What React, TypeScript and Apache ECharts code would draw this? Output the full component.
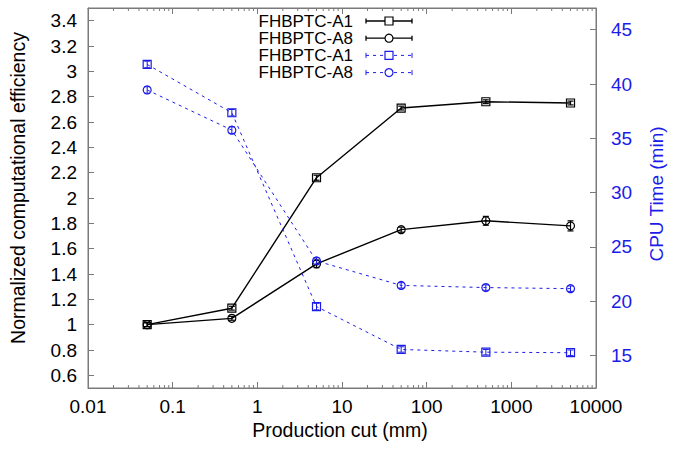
import React, { useEffect, useRef } from 'react';
import * as echarts from 'echarts';

const cuts = [0.05, 0.5, 5, 50, 500, 5000];
const effA1 = [1.0, 1.13, 2.16, 2.71, 2.76, 2.75];
const effA1Err = [0.015, 0.015, 0.02, 0.015, 0.015, 0.015];
const effA8 = [1.0, 1.05, 1.48, 1.75, 1.82, 1.78];
const effA8Err = [0.015, 0.015, 0.03, 0.02, 0.035, 0.04];
const timeA1 = [41.8, 37.35, 19.5, 15.55, 15.3, 15.25];
const timeA1Err = [0.3, 0.3, 0.3, 0.25, 0.25, 0.25];
const timeA8 = [39.45, 35.75, 23.7, 21.45, 21.25, 21.15];
const timeA8Err = [0.3, 0.3, 0.3, 0.25, 0.25, 0.25];
const legendNames = ['FHBPTC-A1', 'FHBPTC-A8', 'FHBPTC-A1', 'FHBPTC-A8'];
const xTitle = 'Production cut (mm)';
const yTitle = 'Normalized computational efficiency';
const y2Title = 'CPU Time (min)';

const FONT = '"Liberation Sans", Arial, Helvetica, sans-serif';
const BLUE = '#1c1ce8';
const BLACK = '#000000';
const FRAME = '#7a7a7a';

const minorTickValues: number[] = [];
for (let d = -2; d <= 3; d++) {
  for (let k = 2; k <= 9; k++) minorTickValues.push(+(k * Math.pow(10, d)).toPrecision(6));
}

function errData(vals: number[], errs: number[]) {
  return cuts.map((c, i) => [c, vals[i] - errs[i], vals[i] + errs[i]]);
}

function errRender(color: string, width: number) {
  return (params: any, api: any) => {
    const x = api.value(0);
    const p1 = api.coord([x, api.value(1)]);
    const p2 = api.coord([x, api.value(2)]);
    const c = 3;
    const st = { stroke: color, lineWidth: width };
    return {
      type: 'group',
      children: [
        { type: 'line', shape: { x1: p1[0], y1: p1[1], x2: p2[0], y2: p2[1] }, style: st },
        { type: 'line', shape: { x1: p1[0] - c, y1: p1[1], x2: p1[0] + c, y2: p1[1] }, style: st },
        { type: 'line', shape: { x1: p2[0] - c, y1: p2[1], x2: p2[0] + c, y2: p2[1] }, style: st },
      ],
    };
  };
}

function minorRender(params: any, api: any) {
  const cs = params.coordSys;
  const x = api.coord([api.value(0), 1])[0];
  const st = { stroke: FRAME, lineWidth: 1 };
  return {
    type: 'group',
    children: [
      { type: 'line', shape: { x1: x, y1: cs.y + cs.height, x2: x, y2: cs.y + cs.height - 3 }, style: st },
      { type: 'line', shape: { x1: x, y1: cs.y, x2: x, y2: cs.y + 3 }, style: st },
    ],
  };
}

function legendGraphic() {
  const styles = [
    { color: BLACK, dash: null as any, sym: 'rect', w: 1.3 },
    { color: BLACK, dash: null as any, sym: 'circle', w: 1.3 },
    { color: BLUE, dash: [3, 4], sym: 'rect', w: 1 },
    { color: BLUE, dash: [3, 4], sym: 'circle', w: 1 },
  ];
  const children: any[] = [];
  legendNames.forEach((name, i) => {
    const y = 21 + 17.2 * i;
    const s = styles[i];
    children.push({
      type: 'text',
      x: 353,
      y,
      style: { text: name, fill: BLACK, font: `17px ${FONT}`, align: 'right', verticalAlign: 'middle' },
    });
    const ls: any = { stroke: s.color, lineWidth: s.w };
    if (s.dash) ls.lineDash = s.dash;
    children.push({ type: 'line', shape: { x1: 366, y1: y, x2: 412, y2: y }, style: ls });
    const cap = { stroke: s.color, lineWidth: s.w };
    children.push({ type: 'line', shape: { x1: 366, y1: y - 2.5, x2: 366, y2: y + 2.5 }, style: cap });
    children.push({ type: 'line', shape: { x1: 412, y1: y - 2.5, x2: 412, y2: y + 2.5 }, style: cap });
    const mk = { stroke: s.color, lineWidth: 1.2, fill: '#ffffff' };
    if (s.sym === 'rect') {
      children.push({ type: 'rect', shape: { x: 385, y: y - 4, width: 8, height: 8 }, style: mk });
    } else {
      children.push({ type: 'circle', shape: { cx: 389, cy: y, r: 4 }, style: mk });
    }
  });
  return children;
}

export default function App() {
  const ref = useRef<HTMLDivElement>(null);
  useEffect(() => {
    document.body.style.margin = '0';
    const chart = echarts.init(ref.current!, null, { renderer: 'svg' });
    const axisLabel = { fontFamily: FONT, fontSize: 19, color: BLACK };
    const lineSeries = (name: string, data: number[], color: string, sym: string, yIdx: number, dashed: boolean) => ({
      type: 'line',
      name,
      data: cuts.map((c, i) => [c, data[i]]),
      xAxisIndex: 0,
      yAxisIndex: yIdx,
      symbol: sym,
      symbolSize: 8,
      showSymbol: true,
      itemStyle: { color: 'rgba(0,0,0,0)', borderColor: color, borderWidth: 1.2 },
      lineStyle: { color, width: dashed ? 1 : 1.4, type: dashed ? [3, 4] : 'solid' },
      z: 3,
    });
    chart.setOption({
      animation: false,
      backgroundColor: '#ffffff',
      grid: { left: 88, right: 80, top: 8, bottom: 64, show: true, borderColor: FRAME, borderWidth: 1, backgroundColor: 'transparent' },
      xAxis: [
        {
          type: 'log',
          logBase: 10,
          min: 0.01,
          max: 10000,
          position: 'bottom',
          axisLine: { show: true, lineStyle: { color: FRAME } },
          axisTick: { show: true, inside: true, length: 6, lineStyle: { color: FRAME } },
          axisLabel: { ...axisLabel, margin: 9, formatter: (v: number) => String(+v.toPrecision(6)) },
          splitLine: { show: false },
          minorTick: { show: false },
        },
        {
          type: 'log',
          logBase: 10,
          min: 0.01,
          max: 10000,
          position: 'top',
          axisLine: { show: true, lineStyle: { color: FRAME } },
          axisTick: { show: true, inside: true, length: 6, lineStyle: { color: FRAME } },
          axisLabel: { show: false },
          splitLine: { show: false },
        },
      ],
      yAxis: [
        {
          type: 'value',
          min: 0.5,
          max: 3.5,
          minInterval: 0.2,
          maxInterval: 0.2,
          position: 'left',
          axisLine: { show: true, lineStyle: { color: FRAME } },
          axisTick: { show: true, inside: true, length: 6, lineStyle: { color: FRAME } },
          axisLabel: { ...axisLabel, margin: 11, showMinLabel: false, showMaxLabel: false },
          splitLine: { show: false },
        },
        {
          type: 'value',
          min: 12,
          max: 47,
          minInterval: 5,
          maxInterval: 5,
          position: 'right',
          axisLine: { show: true, lineStyle: { color: FRAME } },
          axisTick: { show: true, inside: true, length: 6, lineStyle: { color: FRAME } },
          axisLabel: { ...axisLabel, color: BLUE, margin: 15, showMinLabel: false, showMaxLabel: false },
          splitLine: { show: false },
        },
      ],
      series: [
        {
          type: 'custom',
          silent: true,
          xAxisIndex: 0,
          yAxisIndex: 0,
          data: minorTickValues.map((v) => [v]),
          encode: { x: 0 },
          renderItem: minorRender,
          z: 1,
        },
        lineSeries('FHBPTC-A1', effA1, BLACK, 'rect', 0, false),
        lineSeries('FHBPTC-A8', effA8, BLACK, 'circle', 0, false),
        lineSeries('FHBPTC-A1 time', timeA1, BLUE, 'rect', 1, true),
        lineSeries('FHBPTC-A8 time', timeA8, BLUE, 'circle', 1, true),
        { type: 'custom', silent: true, xAxisIndex: 0, yAxisIndex: 0, data: errData(effA1, effA1Err), encode: { x: 0, y: [1, 2] }, renderItem: errRender(BLACK, 1.2), z: 4 },
        { type: 'custom', silent: true, xAxisIndex: 0, yAxisIndex: 0, data: errData(effA8, effA8Err), encode: { x: 0, y: [1, 2] }, renderItem: errRender(BLACK, 1.2), z: 4 },
        { type: 'custom', silent: true, xAxisIndex: 0, yAxisIndex: 1, data: errData(timeA1, timeA1Err), encode: { x: 0, y: [1, 2] }, renderItem: errRender(BLUE, 1), z: 4 },
        { type: 'custom', silent: true, xAxisIndex: 0, yAxisIndex: 1, data: errData(timeA8, timeA8Err), encode: { x: 0, y: [1, 2] }, renderItem: errRender(BLUE, 1), z: 4 },
      ],
      graphic: [
        ...legendGraphic(),
        {
          type: 'text',
          x: 18,
          y: 188,
          rotation: Math.PI / 2,
          style: { text: yTitle, fill: BLACK, font: `19.5px ${FONT}`, align: 'center', verticalAlign: 'middle' },
        },
        {
          type: 'text',
          x: 656,
          y: 194,
          rotation: Math.PI / 2,
          style: { text: y2Title, fill: BLUE, font: `19px ${FONT}`, align: 'center', verticalAlign: 'middle' },
        },
        {
          type: 'text',
          x: 340,
          y: 430,
          style: { text: xTitle, fill: BLACK, font: `19.5px ${FONT}`, align: 'center', verticalAlign: 'middle' },
        },
      ],
    });
    return () => chart.dispose();
  }, []);
  return <div ref={ref} style={{ width: 676, height: 452 }} />;
}
